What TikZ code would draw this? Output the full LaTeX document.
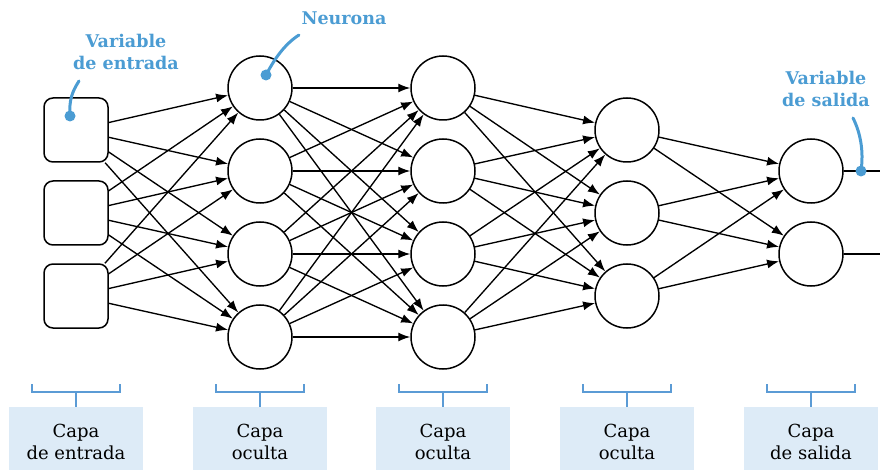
\documentclass[tikz,border=0pt]{standalone}
\usepackage{fontspec}
\setmainfont{DejaVu Serif}
\usetikzlibrary{arrows.meta}
\definecolor{callblue}{HTML}{4B9CD3}
\definecolor{brblue}{HTML}{5B9BD5}
\definecolor{boxblue}{HTML}{DDEBF7}
\begin{document}
\begin{tikzpicture}[x=1pt,y=-1pt,
  inbox/.style={draw,line width=1.5pt,rounded corners=9pt,minimum size=64pt,inner sep=0pt},
  neuron/.style={draw,circle,line width=1.5pt,minimum size=64pt,inner sep=0pt},
  conn/.style={line width=1.35pt,-{Latex[length=12pt,width=9pt]}},
  outl/.style={line width=1.5pt},
  call/.style={draw=callblue,line width=3pt,line cap=round},
  calltext/.style={text=callblue,font=\fontsize{17.5}{22}\selectfont\bfseries,align=center},
  layerbox/.style={fill=boxblue,minimum width=134pt,minimum height=70pt,anchor=north,inner sep=0pt,align=center,font=\fontsize{18}{22}\selectfont},
  bracket/.style={draw=brblue,line width=1.5pt}
]
\useasboundingbox (0,0) rectangle (880,470);

% input layer
\node[inbox] (i1) at (76,130) {};
\node[inbox] (i2) at (76,213) {};
\node[inbox] (i3) at (76,296) {};
% hidden 1 and 2
\foreach \k/\yy in {1/88,2/171,3/254,4/337} {
  \node[neuron] (a\k) at (260,\yy) {};
  \node[neuron] (b\k) at (443,\yy) {};
}
% hidden 3
\node[neuron] (c1) at (627,130) {};
\node[neuron] (c2) at (627,213) {};
\node[neuron] (c3) at (627,296) {};
% output
\node[neuron] (o1) at (811,171) {};
\node[neuron] (o2) at (811,254) {};

% connections
\foreach \s in {1,2,3} \foreach \t in {1,2,3,4} \draw[conn] (i\s) -- (a\t);
\foreach \s in {1,2,3,4} \foreach \t in {1,2,3,4} \draw[conn] (a\s) -- (b\t);
\foreach \s in {1,2,3,4} \foreach \t in {1,2,3} \draw[conn] (b\s) -- (c\t);
\foreach \s in {1,2,3} \foreach \t in {1,2} \draw[conn] (c\s) -- (o\t);

\coordinate (e1) at (880,171);
\coordinate (e2) at (880,254);
\draw[outl] (o1.east) -- (e1);
\draw[outl] (o2.east) -- (e2);

% callouts
\node[calltext] (tin) at (126,52) {Variable\\de entrada};
\coordinate (din) at (70,116);
\coordinate (ein) at (79,81);
\draw[call] (din) .. controls (69,100) and (72,92) .. (ein);
\fill[callblue] (din) circle (5.5pt);

\node[calltext] (tneu) at (344,18) {Neurona};
\coordinate (dneu) at (266,75);
\coordinate (eneu) at (299,35);
\draw[call] (dneu) .. controls (275,58) and (285,44) .. (eneu);
\fill[callblue] (dneu) circle (5.5pt);

\node[calltext] (tout) at (826,89) {Variable\\de salida};
\coordinate (dout) at (861,171);
\coordinate (eout) at (853,118);
\draw[call] (eout) .. controls (860,132) and (864,150) .. (dout);
\fill[callblue] (dout) circle (5.5pt);

% layer labels
\foreach \xx/\nm/\txt in {76/L1/{Capa\\de entrada},260/L2/{Capa\\oculta},443/L3/{Capa\\oculta},627/L4/{Capa\\oculta},811/L5/{Capa\\de salida}} {
  \node[layerbox] (\nm) at (\xx,407) {\txt};
  \coordinate (\nm l) at (\xx-44,384);
  \coordinate (\nm r) at (\xx+44,384);
  \draw[bracket] (\nm l) |- (\xx,392) -| (\nm r);
  \draw[bracket] (\xx,392) -- (\nm.north);
}
\end{tikzpicture}
\end{document}
